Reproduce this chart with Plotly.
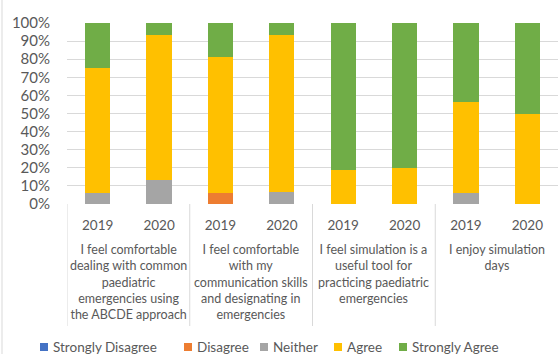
import plotly.graph_objects as go

groups = [
    "I feel comfortable<br>dealing with common<br>paediatric<br>emergencies using<br>the ABCDE approach",
    "I feel comfortable<br>with my<br>communication skills<br>and designating in<br>emergencies",
    "I feel simulation is a<br>useful tool for<br>practicing paediatric<br>emergencies",
    "I enjoy simulation<br>days",
]
years = ["2019", "2020"]

strongly_disagree = [0, 0, 0, 0, 0, 0, 0, 0]
disagree = [0, 0, 6.25, 0, 0, 0, 0, 0]
neither = [6.25, 13.33, 0, 6.67, 0, 0, 6.25, 0]
agree = [68.75, 80.0, 75.0, 86.67, 18.75, 20.0, 50.0, 50.0]
strongly_agree = [25.0, 6.67, 18.75, 6.67, 81.25, 80.0, 43.75, 50.0]

series_names = ["Strongly Disagree", "Disagree", "Neither", "Agree", "Strongly Agree"]
series_values = [strongly_disagree, disagree, neither, agree, strongly_agree]
series_colors = ["#4472C4", "#ED7D31", "#A5A5A5", "#FFC000", "#70AD47"]

W, H = 558, 354
ML, MR, MT, MB = 67, 0, 23, 150
PW, PH = W - ML - MR, H - MT - MB


def px_x(px):
    return (px - ML) / PW


def px_y(py):
    return (H - MB - py) / PH


n_years = len(years)
xpos = list(range(len(groups) * n_years))
xlabels = [y for _ in groups for y in years]

fig = go.Figure()
for name, vals, col in zip(series_names, series_values, series_colors):
    fig.add_trace(go.Bar(
        x=xpos, y=vals, name=name, width=0.41, showlegend=False,
        marker=dict(color=col, line=dict(width=0)),
    ))

grid = "#D9D9D9"
txt = "#595959"
font = "Lato, 'Open Sans', sans-serif"

# group labels and dividers
for i, g in enumerate(groups):
    center = i * n_years + (n_years - 1) / 2
    fig.add_annotation(x=center, xref="x", y=-0.200, yref="paper",
                       text=g, showarrow=False, yanchor="top", xanchor="center",
                       align="center", font=dict(size=12.5, color=txt))
for k in range(len(groups)):
    xd = k * n_years - 0.5
    fig.add_shape(type="line", xref="x", yref="paper", x0=xd, x1=xd,
                  y0=0, y1=px_y(326), line=dict(color=grid, width=1))
# chart frame left edge
fig.add_shape(type="line", xref="paper", yref="paper", x0=px_x(2), x1=px_x(2),
              y0=px_y(-5), y1=px_y(360), line=dict(color=grid, width=1))

# legend (drawn manually to match the compact single-row layout)
legend_marker_px = [40, 184, 260, 334, 399]
legend_y = 347
for (name, col, mx) in zip(series_names, series_colors, legend_marker_px):
    fig.add_shape(type="rect", xref="paper", yref="paper",
                  x0=px_x(mx), x1=px_x(mx + 8), y0=px_y(legend_y - 4), y1=px_y(legend_y + 4),
                  fillcolor=col, line=dict(width=0))
    fig.add_annotation(x=px_x(mx + 11), xref="paper", y=px_y(legend_y), yref="paper",
                       text=name, showarrow=False, xanchor="left", yanchor="middle",
                       font=dict(size=13.5, color=txt))

fig.update_layout(
    width=W, height=H,
    barmode="stack",
    showlegend=False,
    margin=dict(l=ML, r=MR, t=MT, b=MB, autoexpand=False),
    plot_bgcolor="white", paper_bgcolor="white",
    font=dict(family=font, color=txt, size=14),
    xaxis=dict(range=[-0.5, len(xpos) - 0.5], tickmode="array",
               tickvals=xpos, ticktext=xlabels, showgrid=False,
               showline=False, zeroline=False, ticks="",
               ticklabelstandoff=11,
               tickfont=dict(size=13.5, color=txt), fixedrange=True),
    yaxis=dict(range=[0, 100], dtick=10, ticksuffix="%", showgrid=True,
               gridcolor=grid, gridwidth=1, zeroline=False,
               ticklabelstandoff=16,
               tickfont=dict(size=15, color=txt), fixedrange=True),
)
fig.write_html("out.html")
